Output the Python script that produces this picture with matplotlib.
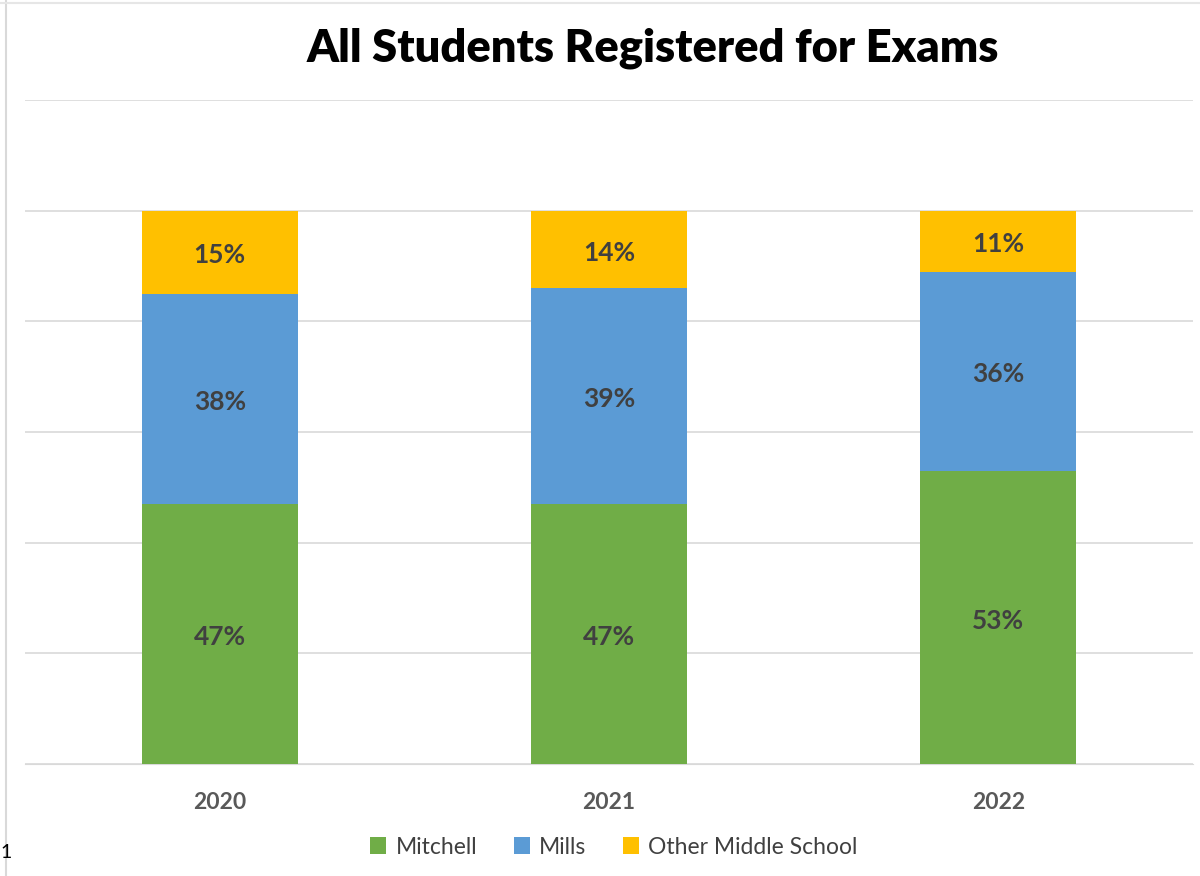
import matplotlib.pyplot as plt
import numpy as np

plt.rcParams['font.family'] = ['Lato', 'DejaVu Sans']

years = ["2020", "2021", "2022"]
mitchell = [0.47, 0.47, 0.53]
mills = [0.38, 0.39, 0.36]
other = [0.15, 0.14, 0.11]
series_names = ["Mitchell", "Mills", "Other Middle School"]
colors = ["#70ad47", "#5b9bd5", "#ffc000"]

fig = plt.figure(figsize=(12, 8.76), dpi=100)
ax = fig.add_axes([25 / 1200, 1 - 764 / 876, 1168 / 1200, 664 / 876])

x = np.arange(len(years))
bottom = np.zeros(len(years))
for name, vals, c in zip(series_names, [mitchell, mills, other], colors):
    bars = ax.bar(x, vals, width=0.4, bottom=bottom, color=c, label=name, zorder=3)
    for b, v, y0 in zip(bars, vals, bottom):
        ax.text(b.get_x() + b.get_width() / 2, y0 + v / 2 - 0.006, f"{v:.0%}",
                ha="center", va="center", fontsize=19, fontweight="bold",
                color="#404040", zorder=4)
    bottom += np.array(vals)

ax.set_xlim(-0.5, 2.5)
ax.set_ylim(0, 1.2)
ax.set_yticks(np.arange(0, 1.21, 0.2))
ax.yaxis.grid(True, color="#d9d9d9", linewidth=1.2, zorder=0)
ax.tick_params(axis="y", left=False, labelleft=False)
ax.tick_params(axis="x", length=0, pad=20)
ax.set_xticks(x)
ax.set_xticklabels(years, fontsize=16.5, fontweight="bold", color="#595959")
for s in ["top", "right", "left"]:
    ax.spines[s].set_visible(False)
ax.spines["bottom"].set_color("#d9d9d9")

fig.text(653 / 1200, 1 - 48 / 876, "All Students Registered for Exams",
         ha="center", va="center", fontsize=32.6, fontweight="heavy", color="black")

fig.legend(loc="center", bbox_to_anchor=(614 / 1200, 1 - 847 / 876), ncol=3,
           frameon=False, fontsize=16.5, handlelength=0.7, handleheight=0.7,
           handletextpad=0.4, columnspacing=1.6, labelcolor="#404040")

# chart border line on the left and top
fig.add_artist(plt.Line2D([6 / 1200, 6 / 1200], [0, 1], color="#d9d9d9", linewidth=1.5))
fig.add_artist(plt.Line2D([0, 1], [1 - 3 / 876, 1 - 3 / 876], color="#e6e6e6", linewidth=1.5))
fig.text(0, 1 - 852 / 876, "1", ha="left", va="center", fontsize=14, color="black")

fig.savefig("out.png", dpi=100)
